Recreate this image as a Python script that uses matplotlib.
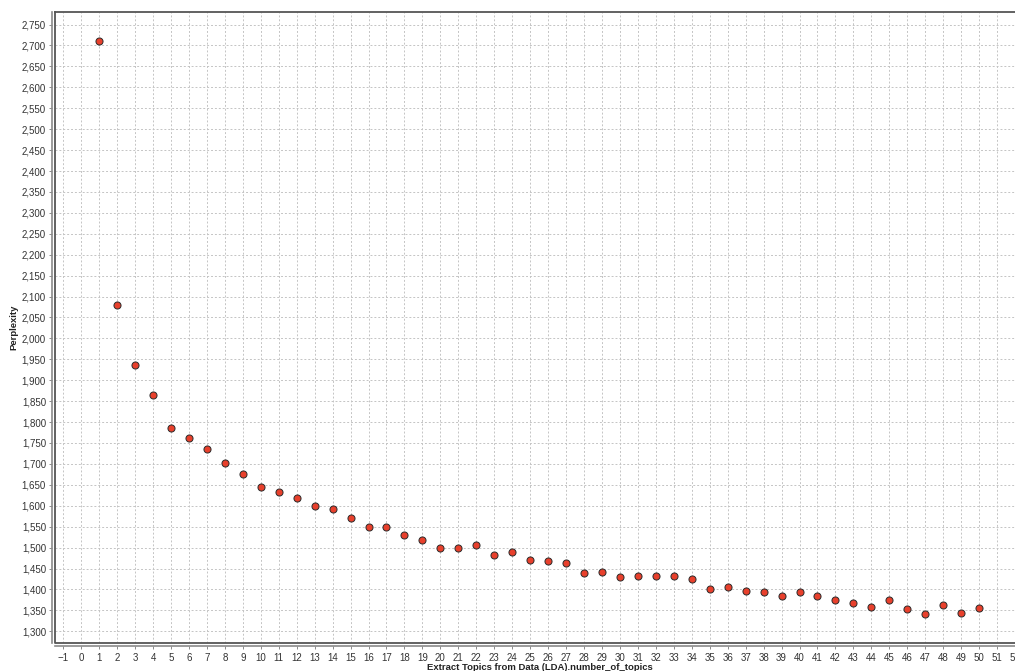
#!/usr/bin/env python3

import matplotlib
matplotlib.use('Agg')
import matplotlib.pyplot as plt
from matplotlib.ticker import MultipleLocator, FuncFormatter

# number of topics vs perplexity
topics = list(range(1, 51))
perplexity = [2710, 2079, 1936, 1864, 1787, 1763, 1736, 1703, 1675, 1646,
              1633, 1619, 1599, 1593, 1570, 1550, 1550, 1530, 1517, 1498,
              1499, 1507, 1483, 1489, 1471, 1468, 1462, 1439, 1442, 1429,
              1432, 1431, 1431, 1424, 1400, 1405, 1396, 1395, 1385, 1395,
              1385, 1375, 1367, 1359, 1374, 1353, 1341, 1364, 1343, 1355]

x_label = 'Extract Topics from Data (LDA).number_of_topics'
y_label = 'Perplexity'

plt.rcParams['font.family'] = ['Liberation Sans', 'DejaVu Sans']

W, H = 1015, 671
fig = plt.figure(figsize=(W / 100, H / 100), dpi=100)
ax = fig.add_axes([55 / W, 28 / H, (W - 55) / W, (643 - 12) / H])

ax.scatter(topics, perplexity, s=26, c='#e8402c', edgecolors='#2a2a2a',
           linewidths=0.7, zorder=3)

ax.set_xlim(-1.46, 52.0)
ax.set_ylim(1272, 2780)
ax.xaxis.set_major_locator(MultipleLocator(1))
ax.yaxis.set_major_locator(MultipleLocator(50))
ax.yaxis.set_major_formatter(FuncFormatter(lambda v, p: f'{int(v):,}'))

ax.grid(True, color='#c4c4c4', linestyle=(0, (2, 2)), linewidth=0.7)
ax.set_axisbelow(True)

# JFreeChart style: plot outline (no right edge) plus detached axis lines
ax.spines['right'].set_visible(False)
ax.spines['top'].set_color('#555555')
ax.spines['top'].set_linewidth(1.3)
for side in ('left', 'bottom'):
    ax.spines[side].set_position(('outward', 2.5))
    ax.spines[side].set_color('#8a8a8a')
    ax.spines[side].set_linewidth(1.2)
ax.plot([0, 0, 1], [1, 0, 0], transform=ax.transAxes, color='#555555',
        linewidth=1.3, clip_on=False, zorder=4)

ax.tick_params(axis='both', direction='out', length=2.5, width=0.7,
               color='#8a8a8a', labelsize=7, labelcolor='#333333', pad=1.5)
ax.tick_params(axis='x', pad=2.5)

fig.text(540 / W, 1 - 668 / H, x_label, ha='center', va='center',
         fontsize=6.8, fontweight='bold', color='#222222')
fig.text(14 / W, 1 - 327 / H, y_label, ha='center', va='center',
         rotation=90, fontsize=6.8, fontweight='bold', color='#222222')

fig.savefig('out.png', dpi=100, facecolor='white')
